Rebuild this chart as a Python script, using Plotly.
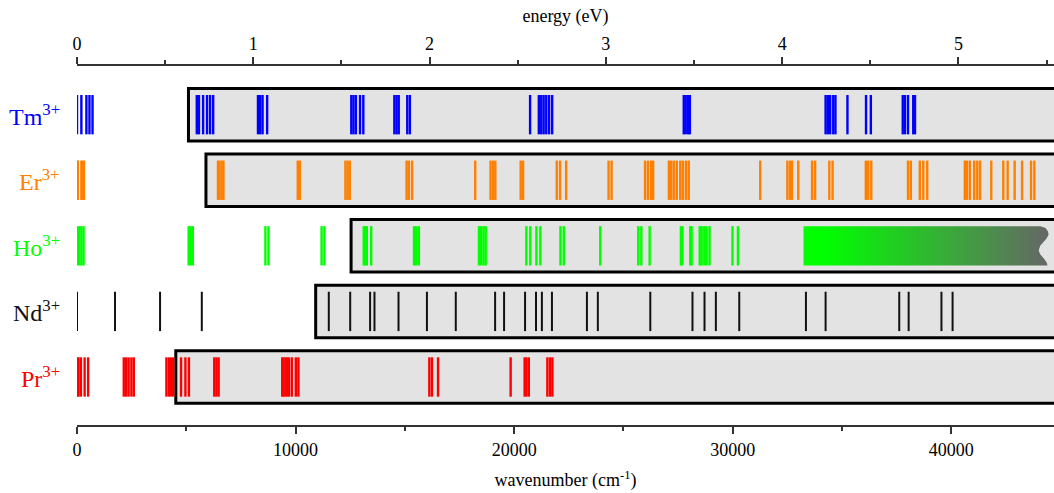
import plotly.graph_objects as go

# ---------------- data ----------------
ions = ["Tm", "Er", "Ho", "Nd", "Pr"]
ion_rows = [5, 4, 3, 2, 1]
ion_colors = ["#0000ff", "#ff8000", "#00ff00", "#111111", "#ff0000"]
ion_line_widths = [2.4, 2.4, 2.4, 2.0, 2.4]

tm_levels = [0, 200, 430, 570, 710,
             5480, 5580, 5770, 5950, 6090, 6230,
             8280, 8380, 8490, 8700,
             12550, 12650, 12760, 12950, 13100,
             14520, 14620, 14720, 15110, 15230,
             20730, 21130, 21240, 21350, 21470, 21600, 21740,
             27760, 27850, 27960, 28040,
             34250, 34350, 34460, 34600, 34700,
             35250,
             36100, 36320,
             37780, 37880, 38020, 38260, 38340]

er_levels = [0, 40, 200, 260, 320,
             6450, 6520, 6620, 6700,
             10100, 10200,
             12280, 12380, 12480,
             15080, 15180, 15330,
             18220,
             18920, 19040, 19140,
             20300, 20410,
             21950, 22100, 22380,
             24320, 24460,
             25990, 26120, 26260, 26360,
             27080, 27180, 27300, 27440, 27600, 27720, 27860, 27990,
             31260,
             32500, 32620, 32710, 33000,
             33630, 33770,
             34420, 34570,
             36090, 36200, 36340,
             38020, 38150, 38560, 38720, 38900,
             40620, 40720, 40850, 41050, 41190, 41320,
             41830,
             42380, 42580,
             42900,
             43240,
             43650, 43800]

ho_levels = [0, 100, 200, 300,
             5110, 5200, 5300,
             8620, 8760,
             11190, 11320,
             13120, 13200, 13260, 13460,
             15420, 15520, 15640,
             18390, 18490, 18600, 18700,
             20560, 20740, 21020, 21200,
             22120, 22270,
             23940,
             25680, 25820, 26200,
             27630, 27700, 28060, 28120, 28490, 28580, 28700, 28800, 28940,
             29990, 30240]

nd_levels = [0, 1740, 3800, 5710,
             11520, 12500, 13410, 13610, 14710, 16010, 17330,
             19130, 19540, 20500, 21000, 21270, 21730,
             23330, 23830, 26230, 28160, 28710, 29230, 30300,
             33350, 34250, 37620, 38050, 39550, 40060]

pr_levels = [0, 70, 180, 350, 510,
             2140, 2250, 2360, 2490, 2600,
             4090, 4200, 4300, 4400,
             4760, 4960, 5120,
             6280, 6380, 6480,
             9390, 9450, 9540, 9620, 9700, 9830, 10010, 10130,
             16120, 16240, 16520,
             19840,
             20480, 20560, 20670,
             21520, 21640, 21750]

ion_levels = [tm_levels, er_levels, ho_levels, nd_levels, pr_levels]

# start of the grey (shaded) region for each ion, cm^-1
box_starts = [5100, 5900, 12540, 10920, 4520]

# Ho continuum band
ho_continuum = [33240, 44450]

x_max = 44700          # cm^-1 at right edge
cm_per_eV = 8065.54

FONT = "'Liberation Serif', 'DejaVu Serif', serif"

# ---------------- figure ----------------
fig = go.Figure()

half_line = 0.30
half_box = 0.40

for name, row, col, lw, levels in zip(ions, ion_rows, ion_colors, ion_line_widths, ion_levels):
    xs, ys = [], []
    for v in levels:
        xs += [v, v, None]
        ys += [row - half_line, row + half_line, None]
    fig.add_trace(go.Scatter(x=xs, y=ys, mode="lines",
                             line=dict(color=col, width=lw),
                             hoverinfo="skip", showlegend=False))

# Ho continuum with gradient and wavy right edge
ho_row = ion_rows[ions.index("Ho")]
c0, c1 = ho_continuum
d = 450.0
edge = [(+0.30, -0.8), (+0.27, -0.3), (+0.22, -0.05), (+0.17, 0.0), (+0.11, -0.2),
        (+0.05, -0.55), (0.0, -0.85), (-0.07, -1.0), (-0.13, -0.85), (-0.19, -0.5),
        (-0.25, -0.2), (-0.30, -0.1)]
gx = [c0, c0] + [c1 + f * d for _, f in edge] + [c0]
gy = [ho_row - half_line, ho_row + half_line] + [ho_row + dy for dy, _ in edge] + [ho_row - half_line]
fig.add_trace(go.Scatter(
    x=gx, y=gy, mode="lines", fill="toself", line=dict(width=0, color="rgba(0,0,0,0)"),
    fillgradient=dict(type="horizontal",
                      colorscale=[[0, "#00ff00"], [0.08, "#00ff00"], [1, "#666666"]]),
    hoverinfo="skip", showlegend=False))

# invisible trace for the top energy axis
fig.add_trace(go.Scatter(x=[0, x_max / cm_per_eV], y=[0.5, 0.5], xaxis="x2", yaxis="y",
                         mode="markers", marker=dict(opacity=0), hoverinfo="skip",
                         showlegend=False))

shapes = []
for row, start in zip(ion_rows, box_starts):
    shapes.append(dict(type="rect", xref="x", yref="y", x0=start, x1=x_max + 3000,
                       y0=row - half_box, y1=row + half_box,
                       fillcolor="#e3e3e3", line=dict(color="black", width=3),
                       layer="below"))

annotations = []
for name, row, col in zip(ions, ion_rows, ion_colors):
    annotations.append(dict(text=f"{name}<sup>3+</sup>", x=0, xref="paper", y=row, yref="y",
                            xanchor="right", yanchor="middle", xshift=-15, showarrow=False,
                            font=dict(family=FONT, size=24, color=col)))

axis_common = dict(showline=True, linecolor="#333333", linewidth=2, ticks="outside",
                   ticklen=7, tickwidth=1.5, tickcolor="#333333", showgrid=False,
                   zeroline=False, tickformat="d",
                   tickfont=dict(family=FONT, size=18, color="black"))

fig.update_layout(
    width=1054, height=493,
    margin=dict(l=77, r=0, t=66, b=68),
    paper_bgcolor="white", plot_bgcolor="white",
    font=dict(family=FONT, size=18, color="black"),
    shapes=shapes, annotations=annotations,
    xaxis=dict(range=[0, x_max], tick0=0, dtick=10000,
               minor=dict(dtick=5000, ticks="outside", ticklen=4, tickcolor="#333333"),
               title=dict(text="wavenumber (cm<sup>-1</sup>)",
                          font=dict(family=FONT, size=18, color="black"), standoff=15),
               **axis_common),
    xaxis2=dict(overlaying="x", side="top", anchor="y",
                range=[0, x_max / cm_per_eV], tick0=0, dtick=1,
                minor=dict(dtick=0.5, ticks="outside", ticklen=4, tickcolor="#333333"),
                title=dict(text="energy (eV)",
                           font=dict(family=FONT, size=18, color="black"), standoff=6),
                **axis_common),
    yaxis=dict(range=[0.268, 5.742], visible=False, fixedrange=True),
    showlegend=False,
)

fig.write_html("out.html")
